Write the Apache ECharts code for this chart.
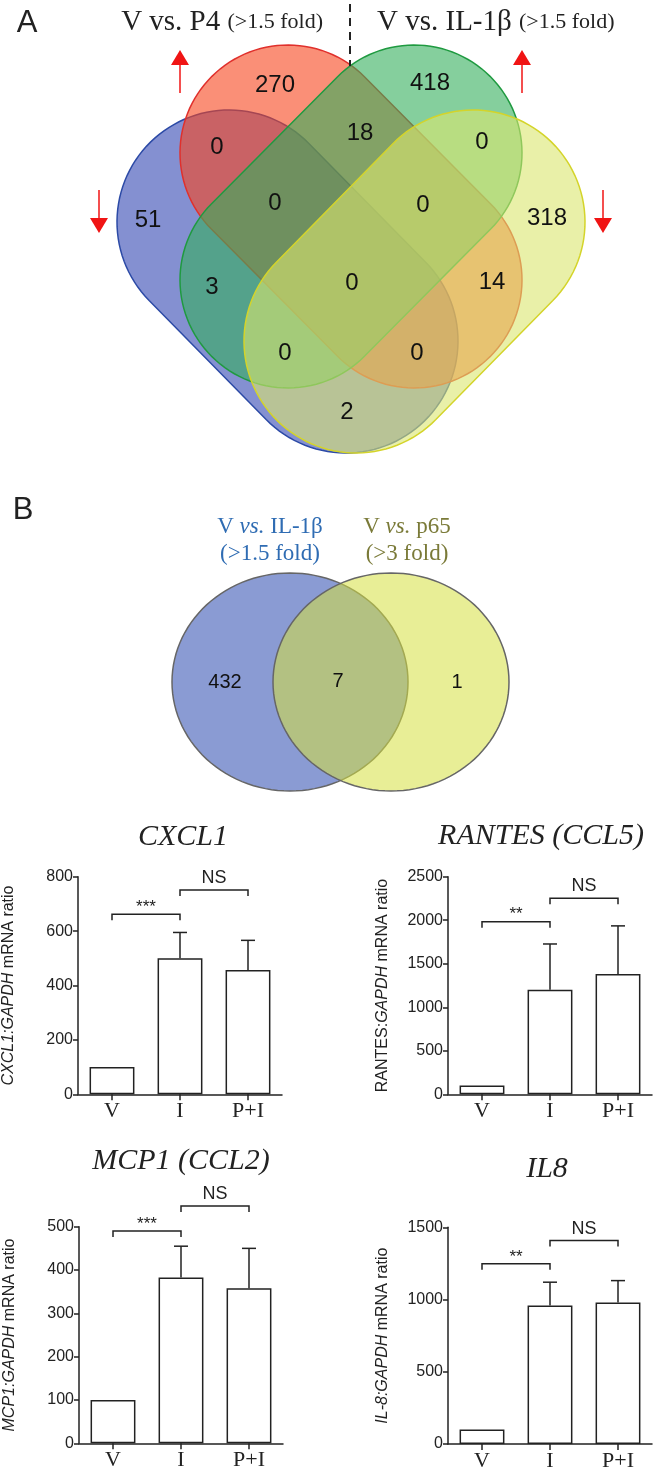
<!DOCTYPE html>
<html><head><meta charset="utf-8">
<script src="https://cdn.jsdelivr.net/npm/echarts@6/dist/echarts.min.js"></script>
<style>html,body{margin:0;padding:0;background:#fff}#c{width:656px;height:1475px}</style>
</head><body><div id="c"></div>
<script>
// ================= DATA =================
const categories = ['V', 'I', 'P+I'];

const cxcl1Mean  = [100, 500, 457];
const cxcl1Upper = [null, 595, 566];
const rantesMean  = [100, 1200, 1382];
const rantesUpper = [null, 1727, 1935];
const mcp1Mean  = [100, 383, 358];
const mcp1Upper = [null, 455, 450];
const il8Mean  = [100, 958, 979];
const il8Upper = [null, 1120, 1131];

// significance brackets: [fromCategory, toCategory, level]
const cxcl1Sig  = [[0, 1, 662], [1, 2, 751]];
const rantesSig = [[0, 1, 1983], [1, 2, 2253]];
const mcp1Sig   = [[0, 1, 490], [1, 2, 548]];
const il8Sig    = [[0, 1, 1247], [1, 2, 1408]];
const cxcl1SigText  = ['***', 'NS'];
const rantesSigText = ['**', 'NS'];
const mcp1SigText   = ['***', 'NS'];
const il8SigText    = ['**', 'NS'];

// y axis ticks: [max, interval]
const cxcl1Ticks  = [800, 200];
const rantesTicks = [2500, 500];
const mcp1Ticks   = [500, 100];
const il8Ticks    = [1500, 500];

// Venn A region counts (order matches vennALayout)
const vennACounts = [270, 418, 51, 0, 18, 0, 318, 0, 0, 3, 0, 14, 0, 0, 2];
// Venn B region counts: IL-1b only, both, p65 only
const vennBCounts = [432, 7, 1];

// ================= LAYOUT (positions, not data) =================
const vennALayout = [
  [275, 85], [430, 83], [148, 220], [217, 147], [360, 133], [482, 142], [547, 218],
  [275, 203], [423, 205], [212, 287], [352, 283], [492, 282], [285, 353], [417, 353], [347, 412]
];
const vennBLayout = [[225, 682], [338, 681], [457, 682]];

const vennAShapes = [
  {c1: [229, 222], c2: [346, 341], r: 112, fill: 'rgba(50,70,178,0.6)',   stroke: '#2c4aa6'}, // blue
  {c1: [288, 153], c2: [414, 280], r: 108, fill: 'rgba(247,68,28,0.6)',   stroke: '#e0302c'}, // red
  {c1: [414, 153], c2: [288, 280], r: 108, fill: 'rgba(52,175,92,0.6)',   stroke: '#1f9a40'}, // green
  {c1: [473, 222], c2: [356, 341], r: 112, fill: 'rgba(218,230,110,0.6)', stroke: '#d4d42a'}  // yellow
];
const vennBShapes = [
  {c: [290, 682], rx: 118, ry: 109, fill: '#8a9bd3', stroke: '#666'},
  {c: [391, 682], rx: 118, ry: 109, fill: 'rgba(213,224,64,0.55)', stroke: '#666'}
];
const arrowsLayout = [[180, 93, 50], [522, 93, 50], [99, 190, 233], [603, 190, 233]];

// ================= HELPERS =================
function capsule(c1, c2, r, n) {
  const a = Math.atan2(c2[1] - c1[1], c2[0] - c1[0]);
  const pts = [];
  for (let i = 0; i <= n; i++) { const t = a - Math.PI / 2 + Math.PI * i / n; pts.push([c2[0] + r * Math.cos(t), c2[1] + r * Math.sin(t)]); }
  for (let i = 0; i <= n; i++) { const t = a + Math.PI / 2 + Math.PI * i / n; pts.push([c1[0] + r * Math.cos(t), c1[1] + r * Math.sin(t)]); }
  return pts;
}
function ellipsePts(c, rx, ry, n) {
  const pts = [];
  for (let i = 0; i < n; i++) { const t = 2 * Math.PI * i / n; pts.push([c[0] + rx * Math.cos(t), c[1] + ry * Math.sin(t)]); }
  return pts;
}
const INK = '#222';
const SANS = 'Liberation Sans';
const SERIF = 'Liberation Serif';

function txt(text, x, y, font, fill, align, valign, rich) {
  return {type: 'text', x: x, y: y, silent: true,
    style: {text: text, font: font, fill: fill || INK, textAlign: align || 'center', align: align || 'center',
      textVerticalAlign: valign || 'middle', verticalAlign: valign || 'middle', rich: rich}};
}

// ================= BAR PANELS =================
const panels = [
  {mean: cxcl1Mean, upper: cxcl1Upper, sig: cxcl1Sig, sigText: cxcl1SigText, ticks: cxcl1Ticks,
   name: '{i|CXCL1:GAPDH} mRNA ratio', gap: 61},
  {mean: rantesMean, upper: rantesUpper, sig: rantesSig, sigText: rantesSigText, ticks: rantesTicks,
   name: 'RANTES:{i|GAPDH} mRNA ratio', gap: 57},
  {mean: mcp1Mean, upper: mcp1Upper, sig: mcp1Sig, sigText: mcp1SigText, ticks: mcp1Ticks,
   name: '{i|MCP1:GAPDH} mRNA ratio', gap: 61},
  {mean: il8Mean, upper: il8Upper, sig: il8Sig, sigText: il8SigText, ticks: il8Ticks,
   name: '{i|IL-8:GAPDH} mRNA ratio', gap: 57}
];

const grids = [
  {left: 0, top: 0, width: 656, height: 820, outerBoundsMode: 'none'},
  {left: 78, top: 876.7, width: 204, height: 217.6, outerBoundsMode: 'none'},
  {left: 448, top: 876.7, width: 204, height: 217.6, outerBoundsMode: 'none'},
  {left: 79, top: 1226.7, width: 204, height: 216.6, outerBoundsMode: 'none'},
  {left: 448, top: 1227.3, width: 204, height: 216.7, outerBoundsMode: 'none'}
];

const xAxes = [{type: 'value', gridIndex: 0, min: 0, max: 656, show: false}];
const yAxes = [{type: 'value', gridIndex: 0, min: 0, max: 820, inverse: true, show: false}];
const series = [];

panels.forEach(function (p, k) {
  const gi = k + 1;
  xAxes.push({type: 'category', gridIndex: gi, data: categories,
    axisLine: {show: true, lineStyle: {color: INK, width: 1.5}},
    axisTick: {show: true, alignWithLabel: true, length: 6, lineStyle: {color: INK, width: 1.5}},
    axisLabel: {fontFamily: SERIF, fontSize: 22, color: INK, margin: 6},
    splitLine: {show: false}});
  yAxes.push({type: 'value', gridIndex: gi, min: 0, max: p.ticks[0], interval: p.ticks[1],
    axisLine: {show: true, lineStyle: {color: INK, width: 1.5}},
    axisTick: {show: true, length: 5, lineStyle: {color: INK, width: 1.5}},
    axisLabel: {fontFamily: SANS, fontSize: 16, color: INK, margin: 5, formatter: function (v) { return String(v); }},
    splitLine: {show: false},
    name: p.name, nameLocation: 'middle', nameGap: p.gap, nameRotate: 90,
    nameTextStyle: {fontFamily: SANS, fontSize: 16, color: INK,
      rich: {i: {fontFamily: SANS, fontSize: 16, color: INK, fontStyle: 'italic'}}}});
  series.push({type: 'bar', xAxisIndex: gi, yAxisIndex: gi, data: p.mean, barCategoryGap: '34%',
    itemStyle: {color: '#fff', borderColor: INK, borderWidth: 1.5}, silent: true, z: 2});
  const errData = [];
  p.upper.forEach(function (u, i) { if (u != null) errData.push([i, p.mean[i], u]); });
  series.push({type: 'custom', xAxisIndex: gi, yAxisIndex: gi, data: errData, clip: false, silent: true, z: 3,
    renderItem: function (params, api) {
      const a = api.coord([api.value(0), api.value(1)]);
      const b = api.coord([api.value(0), api.value(2)]);
      const st = {stroke: INK, lineWidth: 1.5};
      return {type: 'group', children: [
        {type: 'line', shape: {x1: a[0], y1: a[1], x2: b[0], y2: b[1]}, style: st},
        {type: 'line', shape: {x1: b[0] - 7, y1: b[1], x2: b[0] + 7, y2: b[1]}, style: st}
      ]};
    }});
  series.push({type: 'custom', xAxisIndex: gi, yAxisIndex: gi, data: p.sig, clip: false, silent: true, z: 3,
    renderItem: function (params, api) {
      const a = api.coord([api.value(0), api.value(2)]);
      const b = api.coord([api.value(1), api.value(2)]);
      const label = p.sigText[params.dataIndex];
      const isNS = label === 'NS';
      return {type: 'group', children: [
        {type: 'polyline', shape: {points: [[a[0], a[1] + 6], [a[0], a[1]], [b[0], b[1]], [b[0], b[1] + 6]]},
         style: {stroke: INK, lineWidth: 1.5, fill: null}},
        {type: 'text', x: (a[0] + b[0]) / 2, y: isNS ? a[1] - 3 : a[1] - 7,
         style: {text: label, fill: INK, font: (isNS ? '18px ' : '17px ') + SANS,
           textAlign: 'center', align: 'center',
           textVerticalAlign: isNS ? 'bottom' : 'middle', verticalAlign: isNS ? 'bottom' : 'middle'}}
      ]};
    }});
});

// ================= VENN SERIES =================
series.push({type: 'custom', xAxisIndex: 0, yAxisIndex: 0, data: vennAShapes.map(function (s, i) { return [i]; }),
  clip: false, silent: true, z: 1,
  renderItem: function (params, api) {
    const s = vennAShapes[params.dataIndex];
    const pts = capsule(s.c1, s.c2, s.r, 60).map(function (q) { return api.coord(q); });
    return {type: 'polygon', shape: {points: pts}, style: {fill: s.fill, stroke: s.stroke, lineWidth: 1.5}};
  }});
series.push({type: 'custom', xAxisIndex: 0, yAxisIndex: 0, data: vennBShapes.map(function (s, i) { return [i]; }),
  clip: false, silent: true, z: 1,
  renderItem: function (params, api) {
    const s = vennBShapes[params.dataIndex];
    const pts = ellipsePts(s.c, s.rx, s.ry, 120).map(function (q) { return api.coord(q); });
    return {type: 'polygon', shape: {points: pts}, style: {fill: s.fill, stroke: s.stroke, lineWidth: 1.5}};
  }});
function countLabels(layout, counts, size) {
  return {type: 'custom', xAxisIndex: 0, yAxisIndex: 0, clip: false, silent: true, z: 8,
    data: layout.map(function (q, i) { return [q[0], q[1], counts[i]]; }),
    renderItem: function (params, api) {
      const pt = api.coord([api.value(0), api.value(1)]);
      return {type: 'text', x: pt[0], y: pt[1],
        style: {text: String(api.value(2)), fill: '#111', font: size + 'px ' + SANS,
          textAlign: 'center', align: 'center', textVerticalAlign: 'middle', verticalAlign: 'middle'}};
    }};
}
series.push(countLabels(vennALayout, vennACounts, 24));
series.push(countLabels(vennBLayout, vennBCounts, 20));
// arrows
series.push({type: 'custom', xAxisIndex: 0, yAxisIndex: 0, data: arrowsLayout, clip: false, silent: true, z: 6,
  renderItem: function (params, api) {
    const t = api.coord([api.value(0), api.value(1)]);
    const h = api.coord([api.value(0), api.value(2)]);
    const dir = h[1] > t[1] ? 1 : -1;
    const hl = 15, hw = 9;
    const col = '#f01414';
    return {type: 'group', children: [
      {type: 'line', shape: {x1: t[0], y1: t[1], x2: h[0], y2: h[1] - dir * hl}, style: {stroke: col, lineWidth: 1.5}},
      {type: 'polygon', shape: {points: [[h[0], h[1]], [h[0] - hw, h[1] - dir * hl], [h[0] + hw, h[1] - dir * hl]]},
       style: {fill: col}}
    ]};
  }});
// dashed divider
series.push({type: 'custom', xAxisIndex: 0, yAxisIndex: 0, data: [[350, 4, 66]], clip: false, silent: true, z: 6,
  renderItem: function (params, api) {
    const a = api.coord([api.value(0), api.value(1)]);
    const b = api.coord([api.value(0), api.value(2)]);
    return {type: 'line', shape: {x1: a[0], y1: a[1], x2: b[0], y2: b[1]},
      style: {stroke: INK, lineWidth: 2, lineDash: [8, 6]}};
  }});

// ================= TEXT =================
const graphics = [
  txt('A', 27, 23, '31px ' + SANS),
  txt('B', 23, 510, '31px ' + SANS),
  txt('{a|V vs. P4} {b|(>1.5 fold)}', 323, 22, '29px ' + SERIF, INK, 'right', 'middle',
      {a: {fontFamily: SERIF, fontSize: 29, fill: INK, color: INK}, b: {fontFamily: SERIF, fontSize: 22, fill: INK, color: INK}}),
  txt('{a|V vs. IL-1\u03b2} {b|(>1.5 fold)}', 377, 22, '29px ' + SERIF, INK, 'left', 'middle',
      {a: {fontFamily: SERIF, fontSize: 29, fill: INK, color: INK}, b: {fontFamily: SERIF, fontSize: 22, fill: INK, color: INK}}),
  txt('{t|V }{ti|vs.}{t| IL-1\u03b2}\n{t|(>1.5 fold)}', 270, 540, '23px ' + SERIF, '#2f6cb3', 'center', 'middle',
      {t: {fontFamily: SERIF, fontSize: 23, lineHeight: 27, fill: '#2f6cb3', color: '#2f6cb3'},
       ti: {fontFamily: SERIF, fontSize: 23, lineHeight: 27, fontStyle: 'italic', fill: '#2f6cb3', color: '#2f6cb3'}}),
  txt('{t|V }{ti|vs.}{t| p65}\n{t|(>3 fold)}', 407, 540, '23px ' + SERIF, '#7a7a38', 'center', 'middle',
      {t: {fontFamily: SERIF, fontSize: 23, lineHeight: 27, fill: '#7a7a38', color: '#7a7a38'},
       ti: {fontFamily: SERIF, fontSize: 23, lineHeight: 27, fontStyle: 'italic', fill: '#7a7a38', color: '#7a7a38'}}),
  txt('CXCL1', 183, 837, 'italic 30px ' + SERIF),
  txt('RANTES (CCL5)', 541, 836, 'italic 30px ' + SERIF),
  txt('MCP1 (CCL2)', 181, 1161, 'italic 30px ' + SERIF),
  txt('IL8', 547, 1169, 'italic 30px ' + SERIF)
];

const chart = echarts.init(document.getElementById('c'), null, {renderer: 'canvas', width: 656, height: 1475});
chart.setOption({
  animation: false,
  backgroundColor: '#fff',
  grid: grids,
  xAxis: xAxes,
  yAxis: yAxes,
  series: series,
  graphic: graphics
});
</script>
</body></html>
